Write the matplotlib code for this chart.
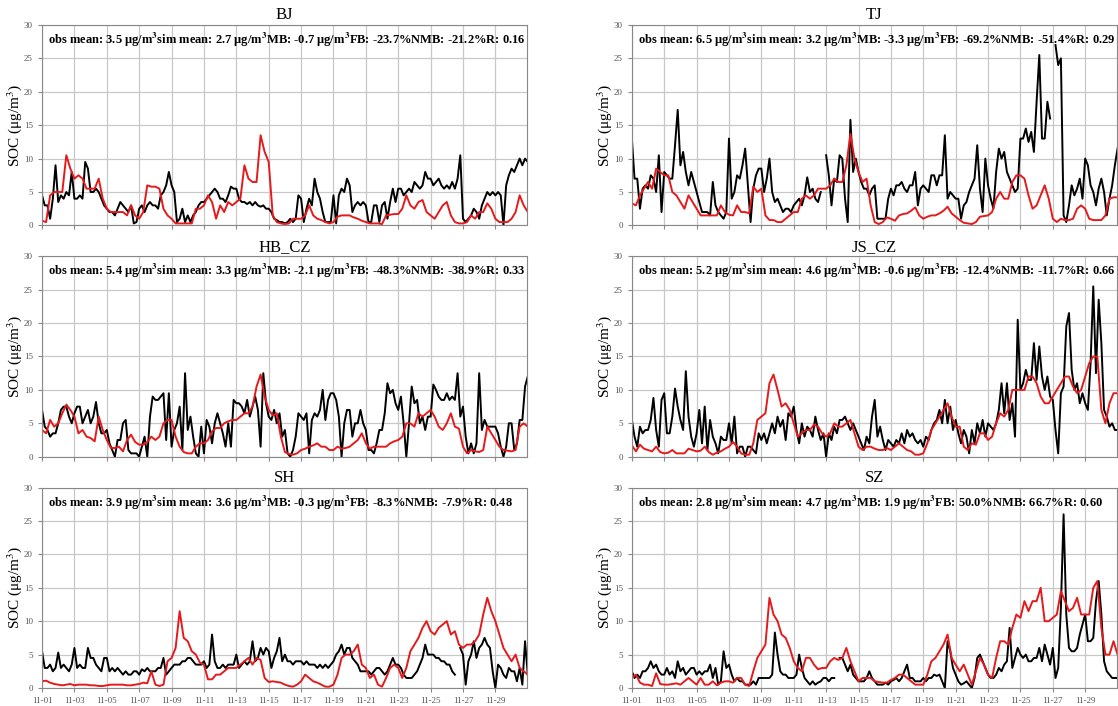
import numpy as np
import pandas as pd
import matplotlib
matplotlib.use("Agg")
import matplotlib.pyplot as plt

plt.rcParams['font.family'] = ['Liberation Serif', 'DejaVu Serif']
plt.rcParams['mathtext.fontset'] = 'stix'

stations = ['BJ', 'TJ', 'HB_CZ', 'JS_CZ', 'SH', 'SZ']

# 4-hourly observations and 6-hourly model output, 11-01 00:00 .. 12-01 00:00
bj_obs = [4.5, 3, 3, 1, 4, 9, 3.5, 4.5, 4, 5, 4.5, 8, 4, 4, 4.5, 4, 9.5, 8.5,
          5, 5, 5.5, 5, 4, 3, 2.5, 2, 2, 1.5, 2.5, 3.5, 3, 2.5, 2, 3, 0.3, 0.5,
          2.5, 3, 2, 3, 3.5, 3, 3, 2.5, 4.5, 5, 6, 8, 6, 5, 0.5, 1, 2.5, 0.5,
          1.5, 0.5, 1.5, 2, 3, 3.5, 3.5, 4, 4.5, 5, 5.5, 5, 4, 4, 3.5, 4.5, 5.8, 5.5,
          5.5, 4, 3.5, 3.5, 3.2, 3.5, 3, 3.5, 3, 2.8, 3, 2.5, 2.5, 2, 1, 0.8, 0.5, 0.5,
          0.3, 0.5, 1, 0.5, 1, 4.5, 4, 0.5, 2.5, 4, 3, 7, 5, 4, 2, 0.5, 0.5, 0.5,
          4.5, 0.3, 4.5, 5.5, 5, 7, 6, 2, 3, 3.5, 3, 3.5, 3, 0.5, 0.5, 3, 3, 0.5,
          3, 3.5, 1, 3.5, 5.5, 3.5, 5.5, 5.5, 4.5, 5, 5.5, 5, 6.5, 6, 5.5, 6, 8, 7,
          7, 6, 6.5, 7, 6, 5.5, 6, 5.5, 6.5, 5.5, 7, 10.5, 1, 0.5, 1, 1.5, 2.5, 2,
          1, 3, 4, 5, 4.5, 5, 4.5, 5, 4.5, 0, 6, 7.5, 8.5, 8, 9, 10, 9, 10, 9.5]
bj_sim = [0.7, 0.5, 4.5, 5, 5, 5, 10.5, 8.5, 7, 7.5, 7, 5.5, 5.5, 5.5, 7, 4,
          2.5, 2, 2, 2, 2, 1.5, 3, 1.5, 1, 2, 6, 5.8, 5.8, 5.5, 2.5, 1.5,
          1, 0.3, 0.3, 0.3, 0.3, 0.3, 2.5, 2.5, 3, 4.5, 3.5, 1, 3, 2, 3.5, 3,
          3.5, 4, 9, 7, 6.5, 6.5, 13.5, 11, 9.5, 1.5, 0.5, 0.3, 0.2, 0.3, 1, 1,
          1, 1.5, 3, 1.5, 1, 0.8, 0.5, 0.3, 0.5, 1.3, 1.5, 1.5, 1.5, 1.2, 1, 0.7,
          0.5, 0.3, 0.3, 0.3, 0.2, 1.5, 1.6, 1.7, 1.7, 2.5, 4.5, 3, 2.5, 3.5, 3.8, 2,
          1.5, 1, 2, 3, 3.5, 1.5, 0.5, 0.3, 0.3, 0.5, 1.5, 1, 2, 2, 3.3, 2.5,
          1, 0.5, 0.5, 0.5, 1, 2, 4.5, 3, 2]

tj_obs = [13, 7, 7, 2.5, 5.5, 6, 5.5, 7.5, 7, 5, 10.5, 2, 8, 7.5, 7, 7, 12, 17.3,
          9, 11, 8, 6, 8, 6.5, 5, 3.5, 2, 2, 2, 1.5, 6.5, 3, 2, 1.5, 1, 2,
          13, 4, 5, 7.5, 7, 9, 11.5, 6, 0.5, 5.5, 7.5, 8.5, 8.5, 5, 7, 10, 5, 3.5,
          4, 3, 2, 2.5, 2.5, 2, 3, 3.5, 4, 3, 4.5, 7.2, 5, 5.5, 4, 3.5, 5, np.nan,
          10.5, 7.5, 3, 7, 6.5, 10.5, 10, 4, 0.5, 15.8, 8, 10, 8, 6.5, 5.5, 5.5, 4.5, 5.5,
          6, 1, 1, 1, 1, 4, 5.5, 4.5, 6, 6, 6.5, 5.5, 5, 6, 6, 8, 3, 5.5,
          6, 5.5, 5, 7.5, 7.5, 6, 7.5, 7.5, 13.5, 4, 5, 4.5, 4, 4, 1, 3, 3.5, 5,
          6, 7, 12, 5.5, 2, 10, 6, 4, 2.5, 8, 11.5, 10, 11, 8, 7, 6, 5, 5.5,
          13, 13, 14.5, 12.5, 14, 11, 18.5, 25.5, 13, 13, 18.5, 16, np.nan, 27, 24, 25, 1.5, 0.5,
          3, 6, 4.5, 5.5, 7, 4, 10, 9, 6, 5, 3, 5.5, 7, 5, 1.5, 4, 6, 9, 11.5]
tj_sim = [3.3, 3, 4.5, 5.5, 6.5, 5.5, 8.5, 8, 7.5, 7.5, 5, 4.5, 3.5, 2.5, 4.5, 3.5,
          2.5, 1.5, 1.5, 1.5, 1.5, 1.5, 3, 2, 1.6, 1.5, 3, 2, 2, 1.8, 5.8, 5,
          5.5, 1.5, 0.8, 0.8, 0.5, 0.5, 1, 1.5, 2, 2, 4, 4.5, 4, 4.5, 5.5, 5.5,
          5.5, 6, 7, 6.5, 6.5, 9, 13.7, 10, 8, 6.5, 7, 3, 0.5, 0.2, 0.5, 1.2,
          1, 0.7, 1.5, 1.7, 1.8, 2.2, 2.7, 1.5, 1, 1.3, 1.5, 1.5, 1.8, 2.2, 2.8, 1.8,
          1.3, 0.8, 0.4, 0.3, 0.2, 0.5, 1.3, 1.4, 1.5, 2, 4, 5, 4, 4, 6.5, 7.5,
          7.5, 7, 4.5, 2.5, 3, 4.5, 6, 4, 1, 0.5, 1, 0.8, 0.8, 1, 2.5, 3,
          2.5, 1, 0.8, 0.8, 0.8, 1.5, 4, 4.2, 4.2]

hb_obs = [7, 4.5, 4, 3, 3.5, 3.5, 5, 7, 7.5, 7.5, 6, 5, 6.5, 7.5, 7.5, 5, 6, 7,
          5, 6, 8.2, 5, 3.5, 3.5, 4, 2, 1, 0, 2.5, 2.5, 5, 5.5, 1, 0.5, 0.5, 0.5,
          0, 1.5, 3, 0, 6, 9, 8.5, 8.5, 9, 9.5, 2.5, 9.5, 1.5, 4, 5, 7.5, 1, 12.5,
          4, 6, 3, 0.5, 0, 4.5, 0.5, 5.5, 4.5, 2, 5, 6.5, 5, 3.5, 1.5, 5, 1.5, 8.5,
          8, 8, 7.5, 6.5, 8.5, 6, 7.5, 9, 7, 1.5, 12.5, 8, 6, 5.5, 7, 5, 6.5, 3,
          4, 0.5, 0, 1, 3, 6.5, 6, 5.5, 6.5, 0.5, 5.5, 6.5, 6, 7, 10, 5.5, 8.5, 9.5,
          9.5, 8.5, 6, 0, 5, 7, 7, 3, 5, 5, 7, 5, 4, 1, 1, 0.5, 2, 4,
          4, 6.5, 11, 9.5, 10, 8, 7, 9, 5, 0, 5, 10.5, 8, 8.5, 5, 6, 4, 6,
          6, 10.8, 10, 9, 8.5, 8.5, 9.5, 8.5, 9, 8.5, 12.5, 6, 7.5, 3, 0.5, 2, 0.5, 2,
          12.5, 4, 5.5, 4.5, 4.5, 4.5, 4.5, 3.5, 1.5, 0, 1.5, 5, 5, 1, 2, 5.5, 5.5, 10.5, 12]
hb_sim = [4, 3.5, 5.5, 4.5, 5, 6.5, 7.8, 7, 6, 3.5, 4, 3, 2.8, 2.3, 6, 4,
          2.5, 1.3, 1.3, 1.5, 0.8, 2.5, 3.3, 2.2, 1.8, 1.8, 2.2, 3, 2.5, 3, 5, 5.5,
          5.5, 3, 1.5, 0.7, 0.5, 0.5, 1.5, 2, 2, 2.5, 3.8, 4.3, 4.3, 5, 5.3, 5.5,
          5.5, 6, 6.5, 6.5, 7.5, 10.5, 12.3, 9, 7, 6.2, 6.5, 3, 0.7, 0.4, 0.3, 0.5,
          1, 1.2, 1.5, 1.7, 2, 1.5, 1.5, 1, 1, 1.5, 1.2, 1.3, 1.5, 2, 2.5, 3.5,
          2, 1.2, 1.5, 1.5, 1.5, 1.5, 2, 2.3, 2.5, 3, 5, 5, 4.5, 6.5, 6, 6.5,
          7, 6, 4.5, 4, 5, 6.5, 4.5, 4.2, 1.5, 0.5, 1, 0.8, 0.7, 1, 4.5, 3.5,
          2.5, 1.5, 1, 0.9, 0.8, 1, 4.5, 5, 4.5]

js_obs = [5.5, 3, 1.5, 4.5, 3.5, 4, 4, 5.5, 8.8, 4, 1.5, 8.5, 9.5, 3.5, 3.5, 6, 10.2, 7.5,
          5.5, 4, 12.8, 6, 3, 1.5, 3.5, 7, 2, 7.5, 1, 5.5, 3, 2, 0.5, 3, 2.5, 2.5,
          5, 2, 6, 0.5, 1.5, 1.5, 0, 1.5, 1.5, 1, 0.5, 3.5, 2.5, 3.5, 2, 3.5, 5, 3.5,
          6, 4.5, 5.5, 2.5, 6.5, 6, 7.5, 4, 2, 5, 3, 4.5, 4, 3, 6, 4, 2.5, 3.5,
          0, 3.5, 2.5, 4.5, 3.5, 5.5, 5.5, 6, 5, 4, 5, 4, 3, 2, 1, 3, 2, 6,
          8.5, 3, 4.5, 2.5, 1, 2.5, 2, 1.5, 2.5, 2, 3.5, 2, 4, 3, 3.5, 2.5, 2, 2.5,
          1.5, 3, 2.5, 4, 5, 5.5, 7, 5, 8.5, 5, 7.5, 4, 5.5, 3.5, 2, 4, 3, 0.5,
          4, 2, 5, 3.5, 5.5, 3, 5, 4.5, 4, 5, 7, 11, 6.5, 11, 5.5, 8, 3, 20.5,
          10, 11, 13, 11.5, 11.5, 17, 11.5, 16.5, 12, 10, 12, 9, 8.5, 4, 0.5, 9.5, 10.5, 19.5,
          21.5, 13, 10, 11, 8, 9.5, 8, 7, 14, 25.5, 12.5, 23.5, 17, 7, 6, 4.5, 5, 4, 4]
js_sim = [1.7, 0.8, 1.8, 1.2, 1, 0.8, 1.5, 0.7, 0.5, 0.6, 1, 0.5, 0.5, 0.5, 1.2, 1,
          0.8, 0.9, 1.5, 0.7, 0.3, 0.6, 0.8, 1.2, 1.5, 2.2, 1.5, 0.5, 0.3, 0.3, 2, 5.5,
          6, 6.5, 11, 12.3, 10, 7.5, 8, 7, 5, 3, 3.5, 4, 4, 4.8, 4.5, 3.5,
          3, 3.5, 5, 4.5, 4.5, 5, 5.5, 3.5, 1.5, 1, 1.5, 1.5, 1.2, 1, 1, 1.3,
          1, 1.5, 2, 1.5, 1, 0.8, 0.3, 0.3, 0.5, 2, 4, 5, 6, 7, 8, 6,
          4.5, 4.5, 1.5, 1, 2, 1.8, 3.5, 3.5, 2.5, 3, 5, 6.5, 6, 7, 10, 10,
          10, 10, 12, 12, 11, 9, 8, 8, 9, 10, 11, 12, 12, 10.5, 9.5, 10,
          12, 14, 15, 15, 7, 5, 8, 9.5, 9.5]

sh_obs = [5.5, 3, 3, 3.5, 2.5, 3, 5.3, 3, 3.5, 3, 2.5, 3.5, 6, 3, 3.5, 3, 3, 6,
          4.5, 4.5, 3.5, 3, 2.5, 4.5, 4.5, 2.5, 3, 2.5, 3, 2.5, 2, 2.5, 2, 2, 2.5, 2.5,
          2, 2.8, 2.5, 3, 2.5, 2.5, 2.5, 3, 3, 4.5, 2, 2.5, 3, 3.5, 3.5, 3.5, 4, 4,
          4.5, 4.5, 4, 3.5, 3.5, 3.5, 4, 3, 3.5, 8, 4, 3, 3, 3.5, 3, 3.5, 3.5, 3.5,
          5, 3, 3.5, 4, 3.5, 4, 7, 4, 4.5, 6, 5, 6, 5.5, 3, 4.5, 5.5, 7.5, 4,
          5, 4, 4, 3.5, 4, 4, 4, 3.5, 4, 3.5, 3.5, 3.5, 3, 3.5, 3, 3.5, 3, 3.5,
          4, 5, 5.5, 6.5, 5, 6, 6, 4.5, 4, 3.5, 2.5, 2.5, 2.5, 2.5, 2, 2.5, 3, 3,
          2.5, 2, 2.5, 3.5, 4.5, 3.5, 3.5, 3, 2, 1.5, 1.5, 1.5, 2, 2.5, 3.5, 4.5, 6.5, 5,
          5, 5, 4.5, 4.5, 4, 4, 3.5, 3.5, 2.5, 2, np.nan, 6, 5, 0.5, 4, 5, 7, 4.5,
          6, 6.5, 7.5, 6.5, 6, 2.5, 0, 3.5, 3, 2, 1.5, 3, 2.5, 2.5, 1, 3, 0.5, 7, 2]
sh_sim = [1, 1.1, 0.8, 0.6, 0.5, 0.4, 0.5, 0.6, 0.4, 0.5, 0.5, 0.5, 0.4, 0.4, 0.3, 0.3,
          0.4, 0.5, 0.5, 0.5, 0.5, 0.4, 0.4, 0.5, 0.6, 0.8, 0.7, 2.5, 0.5, 0.3, 0.5, 4,
          4.5, 6, 11.5, 7.5, 7, 5.5, 5, 3.8, 3.5, 1.3, 1.3, 2, 2, 2.5, 3, 3,
          3, 3.5, 4, 4.5, 3.5, 4.5, 4.2, 1.5, 0.9, 1, 0.9, 0.8, 0.5, 0.3, 0.2, 0.5,
          1, 2, 1.5, 1, 0.8, 0.5, 0.2, 0.2, 0.5, 2, 4.5, 5, 5, 5.5, 6.5, 3.5,
          3, 1.5, 2, 0.5, 0.2, 1.5, 3, 3.5, 3, 1.5, 3, 5.5, 6.5, 7.5, 9, 10,
          8.5, 8, 9, 9.5, 10, 8, 8.5, 6.5, 6, 6.5, 6.5, 7, 8, 11, 13.5, 11.5,
          10, 8, 6, 5, 4, 5, 3, 2.5, 2]

sz_obs = [2.5, 1.5, 2, 1.5, 2.5, 2.5, 3, 4, 3, 3.5, 2.5, 2, 2, 3, 2, 2.5, 1.5, 4,
          2.5, 3, 2, 2.5, 3, 3, 2, 2.5, 2, 2.5, 2.5, 3.5, 1.5, 3, 0.5, 1, 5.5, 3,
          3.5, 2, 1, 1.5, 1, 1, 0.5, 0.5, 0.5, 1, 0.5, 1.5, 1.5, 1.5, 1.5, 1.5, 2, 8.3,
          5, 2.5, 2, 2, 1.5, 1.5, 1.5, 2, 5, 3, 1.5, 1, 0.5, 1, 0.5, 0.8, 1, 1.5,
          1.5, 1, 1.5, 1.5, np.nan, 4.5, 4.5, 3.5, 2.5, 3.5, 2, 1.5, 1, 1, 1, 1.5, 2.5, 1.5,
          1, 0.5, 0.5, 0.5, 0.8, 0.5, 1, 1.2, 1.5, 1, 1.5, 2.5, 3.5, 1.5, 1.5, 1, 1, 1,
          1.5, 1, 1.5, 1.5, 2, 1.8, 2, 1, 0, 7, 5.5, 3, 2, 1, 0.5, 0.7, 1, 0.5,
          0, 1.5, 4.5, 5, 4, 3, 2, 1.5, 1.5, 2, 3, 2.5, 3.5, 4, 9, 3, 4.5, 6,
          5, 4.5, 5, 4, 4, 4.5, 4.5, 6, 4, 6.5, 5, 3.5, 6, 1.5, 3, 12, 26, 11,
          6, 5.5, 5.5, 6, 8, 9.5, 11, 7, 7, 7.5, 13, 16, 11, 4, 2.5, 2, 1.5, 1.5, 1.5]
sz_sim = [1.5, 2, 0.8, 0.5, 0.5, 0.3, 2.2, 0.6, 0.5, 0.5, 0.6, 0.7, 0.5, 1, 1.5, 1,
          0.5, 1.5, 0.5, 0.5, 1, 0.4, 0.8, 1, 1, 0.8, 1.5, 1.5, 0.5, 0.3, 2.5, 4.5,
          5.5, 6.5, 13.5, 11, 10, 8, 7.5, 6, 4, 3, 2.5, 4.5, 4.5, 3.5, 2.8, 3,
          3, 4, 4.5, 4.2, 4.5, 6, 4, 2.5, 1, 1.5, 1.5, 1.5, 1, 0.9, 0.8, 0.8,
          1.2, 1.5, 2, 2, 1.5, 1, 0.5, 0.5, 0.5, 2, 4, 4.5, 5.5, 6.5, 8, 4.5,
          3.5, 2.5, 3.5, 2, 0.5, 2.5, 4.5, 3.5, 2, 1.5, 4.5, 7, 7, 6.5, 9, 11,
          10.5, 13, 11.5, 13, 13, 15, 10, 10, 10.5, 11, 14.5, 13, 11.5, 12, 13.5, 11,
          11, 11, 15, 16, 9, 5, 5, 7, 5]

obs_series = [bj_obs, tj_obs, hb_obs, js_obs, sh_obs, sz_obs]
sim_series = [bj_sim, tj_sim, hb_sim, js_sim, sh_sim, sz_sim]

# statistics printed in each panel
obs_mean = [3.5, 6.5, 5.4, 5.2, 3.9, 2.8]
sim_mean = [2.7, 3.2, 3.3, 4.6, 3.6, 4.7]
mb = [-0.7, -3.3, -2.1, -0.6, -0.3, 1.9]
fb = [-23.7, -69.2, -48.3, -12.4, -8.3, 50.0]
nmb = [-21.2, -51.4, -38.9, -11.7, -7.9, 66.7]
r_val = [0.16, 0.29, 0.33, 0.66, 0.48, 0.60]

t_obs = pd.date_range('2021-11-01', periods=len(bj_obs), freq='4h')
t_sim = pd.date_range('2021-11-01', periods=len(bj_sim), freq='6h')
x_ticks = pd.date_range('2021-11-01', '2021-11-29', freq='2D')
x_end = pd.Timestamp('2021-11-30 23:00')

fig, axes = plt.subplots(3, 2, figsize=(11.18, 7.06), dpi=100)
fig.subplots_adjust(left=0.0376, right=0.999, top=0.9646, bottom=0.0255,
                    wspace=0.216, hspace=0.154)

unit = r'μg/m$^{\mathbf{3}}$'
for i, ax in enumerate(axes.flat):
    ax.plot(t_obs, obs_series[i], color='black', lw=1.4)
    ax.plot(t_sim, sim_series[i], color='#e41a1c', lw=1.4)

    ax.set_xlim(t_obs[0], x_end)
    ax.set_ylim(0, 30)
    ax.set_yticks(np.arange(0, 31, 5))
    ax.set_xticks(x_ticks)
    if i >= 4:
        ax.set_xticklabels([t.strftime('%m-%d') for t in x_ticks])
    else:
        ax.set_xticklabels([])
    ax.tick_params(labelsize=6.5, labelcolor='#555555', color='#888888',
                   length=3, width=0.8)
    ax.grid(True, color='#c8c8c8', lw=0.9)
    ax.set_axisbelow(True)
    for sp in ax.spines.values():
        sp.set_color('#888888')

    ax.set_title(stations[i], fontsize=12, pad=4)
    ax.set_ylabel(r'SOC (μg/m$^{3}$)', fontsize=11)
    ax.yaxis.set_label_coords(-0.037, 0.5)

    label = (f'obs mean: {obs_mean[i]:.1f} {unit}sim mean: {sim_mean[i]:.1f} {unit}'
             f'MB: {mb[i]:.1f} {unit}FB: {fb[i]:.1f}%NMB: {nmb[i]:.1f}%R: {r_val[i]:.2f}')
    ax.text(0.012, 0.925, label, transform=ax.transAxes, fontsize=9.0,
            fontweight='bold', va='center', ha='left')

fig.savefig('out.png', dpi=100)
